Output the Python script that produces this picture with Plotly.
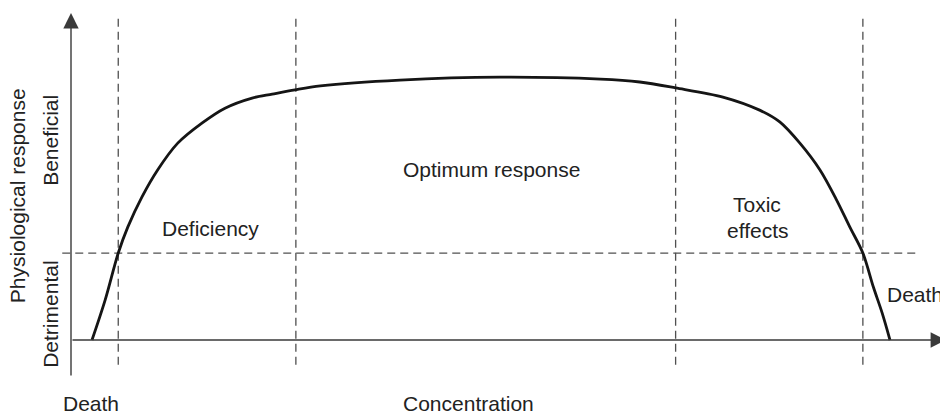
import plotly.graph_objects as go

# Concentration (x) and physiological response (y) of the dose-response curve
conc = [2.4, 3.9, 5.4, 6.5, 8.1, 9.9, 12.2, 15.0, 17.6, 20.7, 23.0, 25.6,
        28.5, 37.6, 49.0, 60.5, 65.0, 69.1, 74.5, 78.7, 81.0, 83.3, 85.6,
        87.5, 89.0, 90.5, 91.7, 92.7, 93.6]
resp = [0, 12.2, 26.6, 34.6, 43.7, 52.0, 60.2, 66.4, 70.9, 74.0, 75.2, 76.5,
        77.7, 79.5, 80.4, 79.8, 78.9, 77.1, 74.3, 70.3, 66.7, 60.2, 52.0,
        42.8, 34.6, 26.6, 16.2, 8.3, 0]

# Zone boundaries (concentration) and the beneficial/detrimental threshold
zone_bounds = [5.4, 25.7, 69.1, 90.5]
threshold = 26.6

# Labels: (text, x, y, xanchor)
zone_labels = [
    ("Deficiency", 15.9, 34.0, "center"),
    ("Optimum response", 48.0, 52.0, "center"),
    ("Toxic", 78.4, 41.3, "center"),
    ("effects", 78.4, 33.6, "center"),
    ("Death", 99.9, 13.8, "right"),
    ("Death", 2.34, -19.4, "center"),
    ("Concentration", 45.4, -19.4, "center"),
]
y_labels = [
    ("Physiological response", -6.17, 44.0),
    ("Beneficial", -2.29, 61.2),
    ("Detrimental", -2.29, 8.0),
]

FONT = "Liberation Sans, Arial, Helvetica, sans-serif"
TXT = "#222222"
AX = "#3a3a3a"
DASH = "#505050"

fig = go.Figure()

# Dashed vertical zone boundaries
for xb in zone_bounds:
    fig.add_trace(go.Scatter(x=[xb, xb], y=[-7.6, 99.4], mode="lines",
                             line=dict(color=DASH, width=1.3, dash="8px,5px"),
                             hoverinfo="skip", showlegend=False))
# Dashed horizontal threshold
fig.add_trace(go.Scatter(x=[-1.0, 97.0], y=[threshold, threshold], mode="lines",
                         line=dict(color=DASH, width=1.3, dash="8px,5px"),
                         hoverinfo="skip", showlegend=False))

# Response curve
fig.add_trace(go.Scatter(x=conc, y=resp, mode="lines",
                         line=dict(color="#151515", width=2.8, shape="spline", smoothing=0.9),
                         hoverinfo="skip", showlegend=False))

annotations = []
# Axes with arrow heads
annotations.append(dict(x=0, y=100, ax=0, ay=-11.3, xref="x", yref="y", axref="x", ayref="y",
                        text="", showarrow=True, arrowhead=2, arrowsize=2.2,
                        arrowwidth=1.4, arrowcolor=AX, standoff=0, startstandoff=0))
annotations.append(dict(x=100, y=0, ax=0, ay=0, xref="x", yref="y", axref="x", ayref="y",
                        text="", showarrow=True, arrowhead=2, arrowsize=2.2,
                        arrowwidth=1.4, arrowcolor=AX, standoff=0, startstandoff=0))

for t, x, y, xa in zone_labels:
    annotations.append(dict(x=x, y=y, xref="x", yref="y", text=t, showarrow=False,
                            font=dict(family=FONT, size=21, color=TXT),
                            xanchor=xa, yanchor="middle", align="center"))
for t, x, y in y_labels:
    annotations.append(dict(x=x, y=y, xref="x", yref="y", text=t, showarrow=False,
                            textangle=-90,
                            font=dict(family=FONT, size=21, color=TXT),
                            xanchor="center", yanchor="middle"))

# The page body has an 8px margin, so the figure is 940x405 and the axis
# ranges are set so that it lines up with the 948x413 window.
fig.update_layout(
    width=940, height=405,
    margin=dict(l=0, r=0, t=0, b=0),
    paper_bgcolor="white", plot_bgcolor="white",
    xaxis=dict(range=[-7.2, 100.229], visible=False, fixedrange=True),
    yaxis=dict(range=[-22.32, 101.53], visible=False, fixedrange=True),
    annotations=annotations,
    showlegend=False,
)

fig.write_html("out.html")
